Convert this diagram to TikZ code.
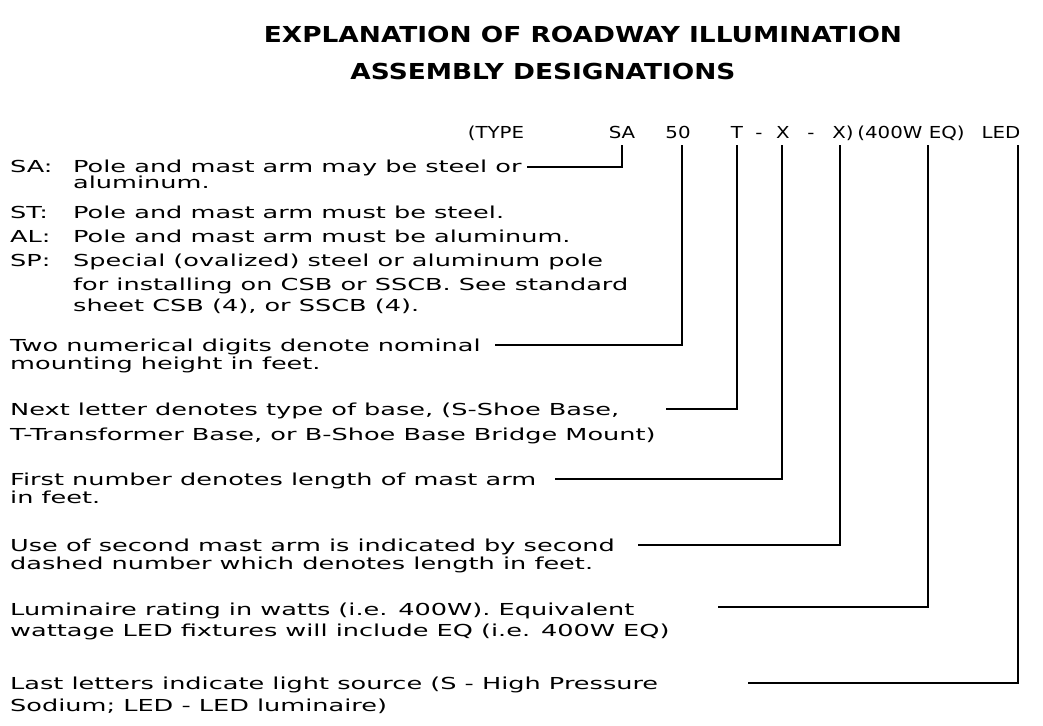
\documentclass[tikz,border=0pt]{standalone}
\usepackage{fontspec}
\newfontfamily\cad[FakeStretch=1.55]{DejaVu Sans}
\newfontfamily\cadt[FakeStretch=1.2]{DejaVu Sans}
\begin{document}
\begin{tikzpicture}[x=1pt,y=-1pt,
  t/.style={anchor=base west,inner sep=0pt,font=\cad\fontsize{16.5}{16}\selectfont},
  h/.style={anchor=base,inner sep=0pt,font=\cadt\fontsize{16.5}{16}\selectfont},
  ttl/.style={anchor=base,inner sep=0pt,font=\cadt\bfseries\fontsize{22}{22}\selectfont},
  ld/.style={line width=2pt}]
\useasboundingbox (0,0) rectangle (1043,725);
\node[ttl] (t1) at (583,42) {EXPLANATION OF ROADWAY ILLUMINATION};
\node[ttl] (t2) at (543,79) {ASSEMBLY DESIGNATIONS};
\node[h] (hty) at (496,138) {(TYPE};
\node[h] (hsa) at (622,138) {SA};
\node[h] (h50) at (678,138) {50};
\node[h] (hT) at (737,138) {T};
\node[h] at (759,138) {-};
\node[h] (hX1) at (783,138) {X};
\node[h] at (811,138) {-};
\node[h] (hX2) at (843,138) {X)};
\node[h] (hW) at (911,138) {(400W EQ)};
\node[h] (hL) at (1001,138) {LED};
\node[t] (a1) at (10,172) {SA:};
\node[t] (a1b) at (73,172) {Pole and mast arm may be steel or};
\node[t] at (73,188) {aluminum.};
\node[t] at (10,218) {ST:};
\node[t] at (73,218) {Pole and mast arm must be steel.};
\node[t] at (10,242) {AL:};
\node[t] at (73,242) {Pole and mast arm must be aluminum.};
\node[t] at (10,266) {SP:};
\node[t] at (73,266) {Special (ovalized) steel or aluminum pole};
\node[t] at (73,290) {for installing on CSB or SSCB. See standard};
\node[t] at (73,311) {sheet CSB (4), or SSCB (4).};
\node[t] (b1) at (10,351) {Two numerical digits denote nominal};
\node[t] at (10,369) {mounting height in feet.};
\node[t] (c1) at (10,415) {Next letter denotes type of base, (S-Shoe Base,};
\node[t] at (10,440) {T-Transformer Base, or B-Shoe Base Bridge Mount)};
\node[t] (d1) at (10,485) {First number denotes length of mast arm};
\node[t] at (10,503) {in feet.};
\node[t] (e1) at (10,551) {Use of second mast arm is indicated by second};
\node[t] at (10,569) {dashed number which denotes length in feet.};
\node[t] (f1) at (10,615) {Luminaire rating in watts (i.e. 400W). Equivalent};
\node[t] at (10,636) {wattage LED fixtures will include EQ (i.e. 400W EQ)};
\node[t] (g1) at (10,689) {Last letters indicate light source (S - High Pressure};
\node[t] at (10,711) {Sodium; LED - LED luminaire)};
\coordinate (pa) at (527,167); \coordinate (pb) at (495,345);
\coordinate (pc) at (666,409); \coordinate (pd) at (555,479);
\coordinate (pe) at (638,545); \coordinate (pf) at (718,607);
\coordinate (pg) at (748,683);
\draw[ld] (pa) -| (622,145);
\draw[ld] (pb) -| (682,145);
\draw[ld] (pc) -| (737,145);
\draw[ld] (pd) -| (782,145);
\draw[ld] (pe) -| (840,145);
\draw[ld] (pf) -| (928,145);
\draw[ld] (pg) -| (1018,145);
\end{tikzpicture}
\end{document}
